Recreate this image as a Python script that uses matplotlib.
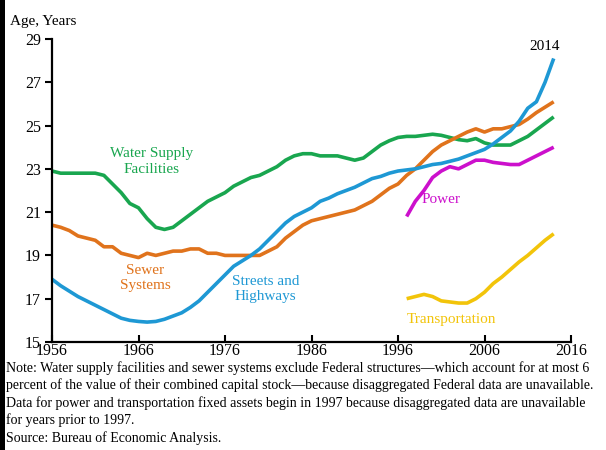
import matplotlib
matplotlib.use("Agg")
import matplotlib.pyplot as plt
from matplotlib.patches import Rectangle

years = list(range(1956, 2015))
water = [22.9, 22.8, 22.8, 22.8, 22.8, 22.8, 22.7, 22.3, 21.9, 21.4,
         21.2, 20.7, 20.3, 20.2, 20.3, 20.6, 20.9, 21.2, 21.5, 21.7,
         21.9, 22.2, 22.4, 22.6, 22.7, 22.9, 23.1, 23.4, 23.6, 23.7,
         23.7, 23.6, 23.6, 23.6, 23.5, 23.4, 23.5, 23.8, 24.1, 24.3,
         24.45, 24.5, 24.5, 24.55, 24.6, 24.55, 24.45, 24.35, 24.3, 24.4,
         24.2, 24.1, 24.1, 24.1, 24.3, 24.5, 24.8, 25.1, 25.4]
sewer = [20.4, 20.3, 20.15, 19.9, 19.8, 19.7, 19.4, 19.4, 19.1, 19.0,
         18.9, 19.1, 19.0, 19.1, 19.2, 19.2, 19.3, 19.3, 19.1, 19.1,
         19.0, 19.0, 19.0, 19.0, 19.0, 19.2, 19.4, 19.8, 20.1, 20.4,
         20.6, 20.7, 20.8, 20.9, 21.0, 21.1, 21.3, 21.5, 21.8, 22.1,
         22.3, 22.7, 23.0, 23.4, 23.8, 24.1, 24.3, 24.5, 24.7, 24.85,
         24.7, 24.85, 24.85, 24.95, 25.05, 25.3, 25.6, 25.85, 26.1]
streets = [17.9, 17.6, 17.35, 17.1, 16.9, 16.7, 16.5, 16.3, 16.1, 16.0,
           15.95, 15.92, 15.95, 16.05, 16.2, 16.35, 16.6, 16.9, 17.3, 17.7,
           18.1, 18.5, 18.75, 19.0, 19.3, 19.7, 20.1, 20.5, 20.8, 21.0,
           21.2, 21.5, 21.65, 21.85, 22.0, 22.15, 22.35, 22.55, 22.65, 22.8,
           22.9, 22.95, 23.0, 23.1, 23.2, 23.25, 23.35, 23.45, 23.6, 23.75,
           23.9, 24.15, 24.45, 24.75, 25.2, 25.8, 26.1, 27.0, 28.1]
years_late = list(range(1997, 2015))
power = [20.8, 21.5, 22.0, 22.6, 22.9, 23.1, 23.0, 23.2, 23.4, 23.4,
         23.3, 23.25, 23.2, 23.2, 23.4, 23.6, 23.8, 24.0]
transport = [17.0, 17.1, 17.2, 17.1, 16.9, 16.85, 16.8, 16.8, 17.0, 17.3,
             17.7, 18.0, 18.35, 18.7, 19.0, 19.35, 19.7, 20.0]

x_ticks = [1956, 1966, 1976, 1986, 1996, 2006, 2016]
y_ticks = [15, 17, 19, 21, 23, 25, 27, 29]

c_green = "#19A64F"
c_orange = "#E0731C"
c_blue = "#1E98D4"
c_magenta = "#CC10CC"
c_yellow = "#F2C40A"

plt.rcParams['font.family'] = ['Liberation Serif', 'DejaVu Serif']

fig = plt.figure(figsize=(6.06, 4.5), dpi=100)
ax = fig.add_axes([52/606, 1-342/450, 519/606, 303/450])

lw = 2.6
ax.plot(years, water, color=c_green, lw=lw, solid_capstyle='butt')
ax.plot(years, sewer, color=c_orange, lw=lw, solid_capstyle='butt')
ax.plot(years, streets, color=c_blue, lw=lw, solid_capstyle='butt')
ax.plot(years_late, power, color=c_magenta, lw=lw, solid_capstyle='butt')
ax.plot(years_late, transport, color=c_yellow, lw=lw, solid_capstyle='butt')

ax.set_xlim(1956, 2016)
ax.set_ylim(15, 29)
ax.set_xticks(x_ticks)
ax.set_yticks(y_ticks)
for s in ['top', 'right']:
    ax.spines[s].set_visible(False)
for s in ['left', 'bottom']:
    ax.spines[s].set_linewidth(1.6)
    ax.spines[s].set_color('black')
ax.tick_params(axis='x', direction='in', length=5, width=1.5, labelsize=11.5, pad=1)
ax.tick_params(axis='y', direction='out', length=5, width=1.5, labelsize=11.5, pad=3)

fs = 11
ax.text(1967.5, 23.35, "Water Supply\nFacilities", color=c_green, fontsize=fs,
        ha='center', va='center', linespacing=1.25)
ax.text(1966.8, 17.95, "Sewer\nSystems", color=c_orange, fontsize=fs,
        ha='center', va='center', linespacing=1.25)
ax.text(1980.7, 17.45, "Streets and\nHighways", color=c_blue, fontsize=fs,
        ha='center', va='center', linespacing=1.25)
ax.text(2001.0, 21.6, "Power", color=c_magenta, fontsize=fs, ha='center', va='center')
ax.text(2002.2, 16.05, "Transportation", color=c_yellow, fontsize=fs, ha='center', va='center')
ax.text(2013.0, 28.65, "2014", color='black', fontsize=fs, ha='center', va='center')

fig.text(10/606, 1-22/450, "Age, Years", fontsize=11, ha='left', va='center')

note = ("Note: Water supply facilities and sewer systems exclude Federal structures\u2014which account for at most 6\n"
        "percent of the value of their combined capital stock\u2014because disaggregated Federal data are unavailable.\n"
        "Data for power and transportation fixed assets begin in 1997 because disaggregated data are unavailable\n"
        "for years prior to 1997.\n"
        "Source: Bureau of Economic Analysis.")
fig.text(6/606, 1-361/450, note, fontsize=10, ha='left', va='top', linespacing=1.34)

fig.patches.append(Rectangle((0, 0), 5/606, 1, transform=fig.transFigure,
                             facecolor='black', edgecolor='none', zorder=10))

fig.savefig("out.png", dpi=100)
